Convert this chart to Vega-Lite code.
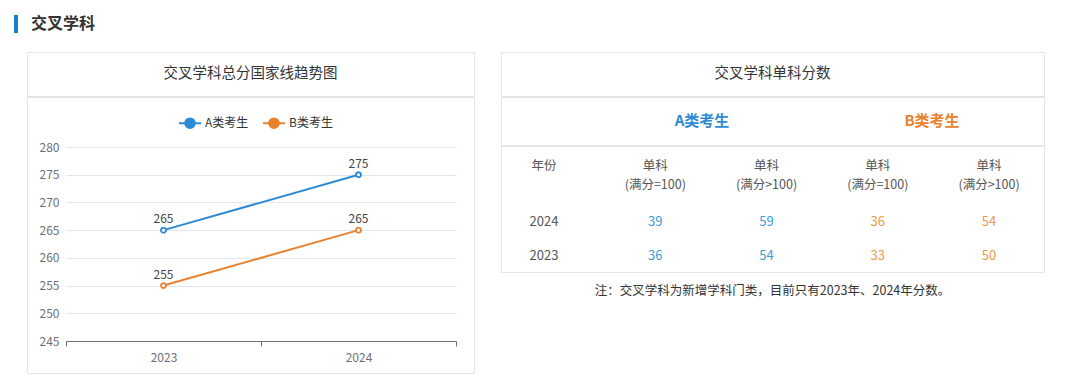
{
  "$schema": "https://vega.github.io/schema/vega-lite/v6.json",
  "padding": {"left": 14, "top": 15, "right": 0, "bottom": 0},
  "background": "white",
  "config": {
    "font": "Noto Sans CJK SC",
    "view": {"stroke": null},
    "title": {"font": "Noto Sans CJK SC"},
    "axis": {"labelFont": "Noto Sans CJK SC"},
    "legend": {"labelFont": "Noto Sans CJK SC"}
  },
  "datasets": {
    "lines": [
      {"year": "2023", "类别": "A类考生", "分数": 265},
      {"year": "2024", "类别": "A类考生", "分数": 275},
      {"year": "2023", "类别": "B类考生", "分数": 255},
      {"year": "2024", "类别": "B类考生", "分数": 265}
    ],
    "header": [
      {"列": "年份", "行": "1", "t": "年份"},
      {"列": "A1", "行": "1", "t": "单科"},
      {"列": "A1", "行": "2", "t": "(满分=100)"},
      {"列": "A2", "行": "1", "t": "单科"},
      {"列": "A2", "行": "2", "t": "(满分>100)"},
      {"列": "B1", "行": "1", "t": "单科"},
      {"列": "B1", "行": "2", "t": "(满分=100)"},
      {"列": "B2", "行": "1", "t": "单科"},
      {"列": "B2", "行": "2", "t": "(满分>100)"}
    ],
    "cells": [
      {"年": "2024", "列": "年份", "组": "年份", "值": "2024"},
      {"年": "2024", "列": "A1", "组": "A", "值": "39"},
      {"年": "2024", "列": "A2", "组": "A", "值": "59"},
      {"年": "2024", "列": "B1", "组": "B", "值": "36"},
      {"年": "2024", "列": "B2", "组": "B", "值": "54"},
      {"年": "2023", "列": "年份", "组": "年份", "值": "2023"},
      {"年": "2023", "列": "A1", "组": "A", "值": "36"},
      {"年": "2023", "列": "A2", "组": "A", "值": "54"},
      {"年": "2023", "列": "B1", "组": "B", "值": "33"},
      {"年": "2023", "列": "B2", "组": "B", "值": "50"}
    ]
  },
  "spacing": 8,
  "hconcat": [
    {
      "width": 4,
      "height": 18,
      "data": {"values": [{"s": "交叉学科"}]},
      "mark": {"type": "rect", "color": "#1a7fd4"},
      "encoding": {"y": {"field": "s", "type": "nominal", "axis": null}}
    },
    {
      "spacing": 18,
      "vconcat": [
        {
          "width": 8,
          "height": 18,
          "data": {"values": [{"t": "交叉学科"}]},
          "mark": {"type": "text", "align": "left", "baseline": "middle", "fontSize": 16, "fontWeight": "bold", "color": "#333333"},
          "encoding": {"text": {"field": "t"}}
        },
        {
          "spacing": 25,
          "hconcat": [
            {
              "spacing": -3,
              "vconcat": [
                {
                  "width": 447,
                  "height": 44,
                  "view": {"stroke": "#e4e4e4"},
                  "data": {"values": [{"t": "交叉学科总分国家线趋势图"}]},
                  "mark": {"type": "text", "fontSize": 14.5, "color": "#333333", "baseline": "middle"},
                  "encoding": {"text": {"field": "t"}}
                },
                {
                  "width": 447,
                  "height": 276,
                  "view": {"stroke": "#e4e4e4"},
                  "data": {"name": "lines"},
                  "encoding": {
                    "x": {
                      "field": "year", "type": "ordinal", "bandPosition": 0.5,
                      "scale": {"type": "band", "range": [39, 429], "paddingInner": 0, "paddingOuter": 0},
                      "axis": {"title": null, "offset": -32, "tickBand": "extent", "labelAngle": 0, "domainColor": "#6e7079", "tickColor": "#6e7079", "tickSize": 5, "labelColor": "#6e7079", "labelFontSize": 12, "labelPadding": 6, "grid": false}
                    },
                    "y": {
                      "field": "分数", "type": "quantitative",
                      "scale": {"domain": [245, 280], "range": [244, 50], "nice": false, "zero": false},
                      "axis": {"title": null, "values": [245, 250, 255, 260, 265, 270, 275, 280], "offset": -39, "domain": false, "ticks": false, "labelPadding": 7, "labelColor": "#6e7079", "labelFontSize": 12, "grid": true, "gridColor": "#e0e6f1"}
                    },
                    "color": {
                      "field": "类别", "type": "nominal",
                      "scale": {"domain": ["A类考生", "B类考生"], "range": ["#2d8bd6", "#e8822e"]},
                      "legend": {"orient": "none", "legendX": 164, "legendY": 96, "direction": "horizontal", "title": null, "padding": 0,
                        "symbolType": "M-1,0L-0.45,0M0.45,0L1,0M-0.45,0A0.45,0.45,0,1,1,0.45,0A0.45,0.45,0,1,1,-0.45,0",
                        "symbolSize": 484, "symbolStrokeWidth": 1.8, "labelFontSize": 12, "labelColor": "#333333", "columnPadding": 10, "labelOffset": 3}
                    }
                  },
                  "layer": [
                    {"mark": {"type": "point", "filled": false, "fill": "white", "size": 22, "strokeWidth": 1.6, "opacity": 1}},
                    {"mark": {"type": "line", "strokeWidth": 2}},
                    {"mark": {"type": "point", "filled": false, "fill": "white", "size": 22, "strokeWidth": 1.6, "opacity": 1}},
                    {"mark": {"type": "text", "dy": -11, "fontSize": 12, "color": "#444444"}, "encoding": {"text": {"field": "分数", "type": "quantitative"}, "color": {"value": "#444444"}}}
                  ]
                }
              ]
            },
            {
              "spacing": -3,
              "vconcat": [
                {
                  "width": 543,
                  "height": 44,
                  "view": {"stroke": "#e4e4e4"},
                  "data": {"values": [{"t": "交叉学科单科分数"}]},
                  "mark": {"type": "text", "fontSize": 14.5, "color": "#333333", "baseline": "middle"},
                  "encoding": {"text": {"field": "t"}}
                },
                {
                  "width": 543,
                  "height": 48,
                  "view": {"stroke": "#e4e4e4"},
                  "data": {"values": [{"组": "A类考生"}, {"组": "B类考生"}]},
                  "mark": {"type": "text", "fontSize": 15, "fontWeight": "bold", "baseline": "middle"},
                  "encoding": {
                    "x": {"field": "组", "type": "nominal", "scale": {"type": "point", "range": [201, 431], "padding": 0}, "axis": null},
                    "text": {"field": "组"},
                    "color": {"field": "组", "type": "nominal", "scale": {"domain": ["A类考生", "B类考生"], "range": ["#1e80d2", "#f07d1c"]}, "legend": null}
                  }
                },
                {
                  "width": 543,
                  "height": 126,
                  "view": {"stroke": "#e4e4e4"},
                  "title": {"text": "注：交叉学科为新增学科门类，目前只有2023年、2024年分数。", "orient": "bottom", "fontSize": 12.5, "fontWeight": "normal", "color": "#333333", "offset": 13, "anchor": "middle"},
                  "resolve": {"scale": {"y": "independent", "color": "independent"}},
                  "layer": [
                    {
                      "data": {"name": "header"},
                      "mark": {"type": "text", "fontSize": 12.5, "baseline": "middle", "color": "#555555"},
                      "encoding": {
                        "x": {"field": "列", "type": "nominal", "scale": {"type": "point", "domain": ["年份", "A1", "A2", "B1", "B2"], "range": [43, 488], "padding": 0}, "axis": null},
                        "y": {"field": "行", "type": "nominal", "scale": {"type": "point", "domain": ["1", "2"], "range": [20, 39], "padding": 0}, "axis": null},
                        "text": {"field": "t"}
                      }
                    },
                    {
                      "data": {"name": "cells"},
                      "mark": {"type": "text", "fontSize": 13, "baseline": "middle"},
                      "encoding": {
                        "x": {"field": "列", "type": "nominal", "scale": {"type": "point", "domain": ["年份", "A1", "A2", "B1", "B2"], "range": [43, 488], "padding": 0}, "axis": null},
                        "y": {"field": "年", "type": "nominal", "scale": {"type": "point", "domain": ["2024", "2023"], "range": [76, 110], "padding": 0}, "axis": null},
                        "text": {"field": "值"},
                        "color": {"field": "组", "type": "nominal", "scale": {"domain": ["年份", "A", "B"], "range": ["#555555", "#3a9dd8", "#ec9a48"]}, "legend": null}
                      }
                    }
                  ]
                }
              ]
            }
          ]
        }
      ]
    }
  ]
}
